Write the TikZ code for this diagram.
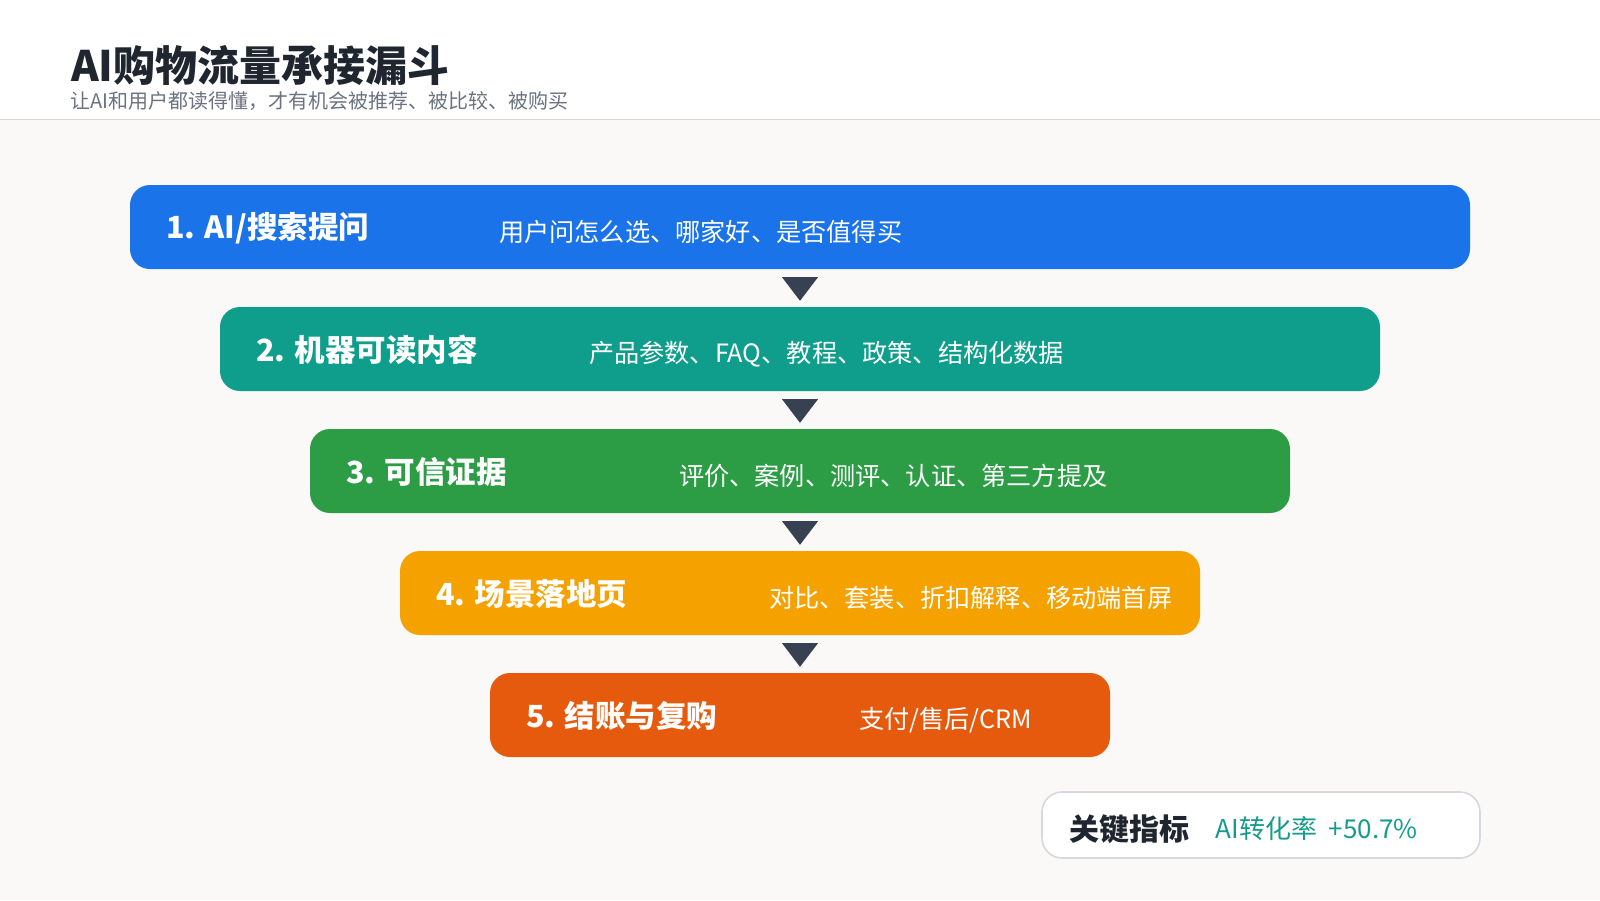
\documentclass[tikz,border=0pt]{standalone}
\usepackage{fontspec}
\setmainfont{Noto Sans CJK SC}
\usepackage{xcolor}
\usepackage{tikz}
\usetikzlibrary{positioning, calc}

\definecolor{pagebg}{HTML}{FAF9F7}
\definecolor{inkdark}{HTML}{1F2630}
\definecolor{inkgray}{HTML}{6B7280}
\definecolor{rulegray}{HTML}{D5D9DE}
\definecolor{stepblue}{HTML}{1A73E8}
\definecolor{stepteal}{HTML}{0F9E8C}
\definecolor{stepgreen}{HTML}{2C9D45}
\definecolor{steporange}{HTML}{F5A100}
\definecolor{stepred}{HTML}{E65A0E}
\definecolor{arrowslate}{HTML}{374151}
\definecolor{metricteal}{HTML}{169C8C}

\begin{document}
\begin{tikzpicture}[
    x=1pt, y=-1pt,
    bar/.style={rectangle, rounded corners=20pt, minimum height=84pt, inner sep=0pt},
    bartitle/.style={anchor=west, inner sep=0pt, text=white, font=\fontsize{30.5}{34}\selectfont\bfseries},
    bardesc/.style={anchor=west, inner sep=0pt, text=white, font=\fontsize{25.2}{30}\selectfont},
    funnelarrow/.style={fill=arrowslate},
    metricbox/.style={rectangle, rounded corners=20pt, draw=rulegray, line width=1.6pt, fill=white, minimum width=438pt, minimum height=66pt}
]

% Page and header
\useasboundingbox (0,0) rectangle (1600,900);
\fill[pagebg] (0,120) rectangle (1600,900);
\fill[white] (0,0) rectangle (1600,119);
\draw[rulegray, line width=1.6pt] (0,119.5) -- (1600,119.5);

\node[anchor=west, inner sep=0pt, text=inkdark, font=\fontsize{42}{46}\selectfont\bfseries] (title) at (71,66) {AI购物流量承接漏斗};
\node[anchor=west, inner sep=0pt, text=inkgray, font=\fontsize{20}{24}\selectfont] (subtitle) at (70,101) {让AI和用户都读得懂，才有机会被推荐、被比较、被购买};

% Funnel bars
\node[bar, fill=stepblue, minimum width=1340pt] (b1) at (800,227) {};
\node[bar, fill=stepteal, minimum width=1160pt] (b2) at (800,349) {};
\node[bar, fill=stepgreen, minimum width=980pt] (b3) at (800,471) {};
\node[bar, fill=steporange, minimum width=800pt] (b4) at (800,593) {};
\node[bar, fill=stepred, minimum width=620pt] (b5) at (800,715) {};

\node[bartitle, right=36pt of b1.west, yshift=-1pt] (t1) {1. AI/搜索提问};
\node[bardesc, right=369pt of b1.west, yshift=-5pt] (d1) {用户问怎么选、哪家好、是否值得买};
\node[bartitle, right=36pt of b2.west, yshift=-1pt] (t2) {2. 机器可读内容};
\node[bardesc, right=369pt of b2.west, yshift=-5pt] (d2) {产品参数、FAQ、教程、政策、结构化数据};
\node[bartitle, right=36pt of b3.west, yshift=-1pt] (t3) {3. 可信证据};
\node[bardesc, right=369pt of b3.west, yshift=-5pt] (d3) {评价、案例、测评、认证、第三方提及};
\node[bartitle, right=36pt of b4.west, yshift=-1pt] (t4) {4. 场景落地页};
\node[bardesc, right=369pt of b4.west, yshift=-5pt] (d4) {对比、套装、折扣解释、移动端首屏};
\node[bartitle, right=36pt of b5.west, yshift=-1pt] (t5) {5. 结账与复购};
\node[bardesc, right=369pt of b5.west, yshift=-5pt] (d5) {支付/售后/CRM};

% Arrows between bars
\fill[funnelarrow] ($(b1.south)+(-18,8)$) -- ($(b1.south)+(18,8)$) -- ($(b2.north)+(0,-6)$) -- cycle;
\fill[funnelarrow] ($(b2.south)+(-18,8)$) -- ($(b2.south)+(18,8)$) -- ($(b3.north)+(0,-6)$) -- cycle;
\fill[funnelarrow] ($(b3.south)+(-18,8)$) -- ($(b3.south)+(18,8)$) -- ($(b4.north)+(0,-6)$) -- cycle;
\fill[funnelarrow] ($(b4.south)+(-18,8)$) -- ($(b4.south)+(18,8)$) -- ($(b5.north)+(0,-6)$) -- cycle;

% Key metric
\node[metricbox] (metric) at (1261,825) {};
\node[anchor=west, inner sep=0pt, text=inkdark, font=\fontsize{30}{34}\selectfont\bfseries, right=28pt of metric.west, yshift=-4pt] (mlabel) {关键指标};
\node[anchor=west, inner sep=0pt, text=metricteal, font=\fontsize{26}{30}\selectfont, right=26pt of mlabel.east] (mvalue) {AI转化率\hspace{0.45em}+50.7\%};

\end{tikzpicture}
\end{document}
